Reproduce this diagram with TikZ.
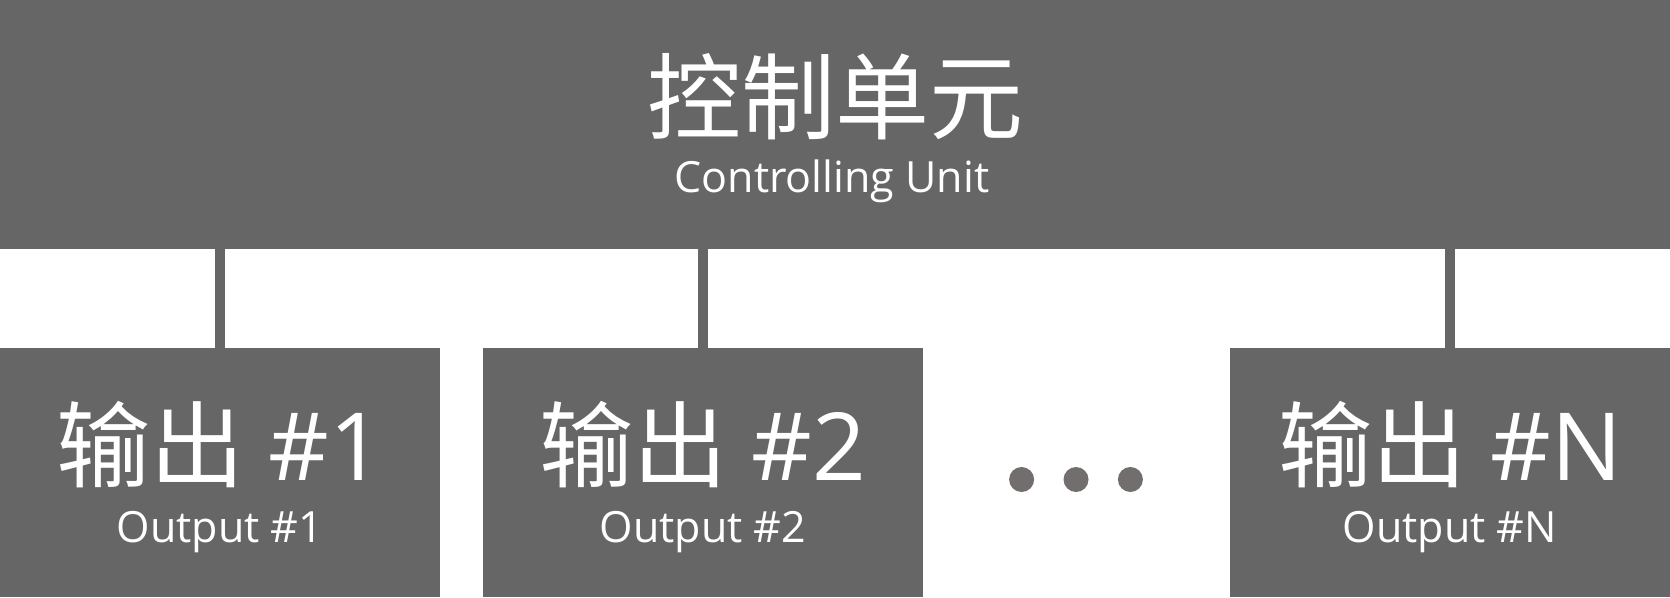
\documentclass[tikz,border=0pt]{standalone}
\usepackage{fontspec}
\setmainfont{Open Sans}
\newfontfamily\cjk{Noto Sans CJK SC}
\usetikzlibrary{positioning, calc}
\definecolor{boxgray}{RGB}{102,102,102}
\definecolor{dotgray}{RGB}{115,110,110}
\tikzset{
	block/.style={fill=boxgray, draw=none, inner sep=0pt, outer sep=0pt, minimum height=249pt},
	link/.style={draw=boxgray, line width=10pt},
	bigtext/.style={text=white, inner sep=0pt, anchor=base, font=\fontsize{94}{94}\selectfont},
	smalltext/.style={text=white, inner sep=0pt, anchor=base, font=\fontsize{43}{43}\selectfont},
	dot/.style={fill=dotgray, draw=none, circle, inner sep=0pt, minimum size=25pt}
}

\begin{document}
\begin{tikzpicture}[x=1pt, y=1pt]
	\useasboundingbox (0,0) rectangle (1670,-597);
	\node (ctrl) [block, minimum width=1670pt, anchor=north west] at (0,0) {};
	\node (out1) [block, minimum width=440pt] at (220,-472.5) {};
	\node (out2) [block, minimum width=440pt] at (703,-472.5) {};
	\node (outN) [block, minimum width=440pt] at (1450,-472.5) {};
	% connectors
	\draw[link] (ctrl.south -| out1.north) -- (out1.north);
	\draw[link] (ctrl.south -| out2.north) -- (out2.north);
	\draw[link] (ctrl.south -| outN.north) -- (outN.north);
	% labels
	\node (ctrlcn) [bigtext] at (835,-132) {\cjk 控制单元};
	\node (ctrlen) [smalltext] at (832,-192) {Controlling Unit};
	\node (out1cn) [bigtext] at (220,-480) {{\cjk 输出} \#1};
	\node (out1en) [smalltext] at (220,-542) {Output \#1};
	\node (out2cn) [bigtext] at (703,-480) {{\cjk 输出} \#2};
	\node (out2en) [smalltext] at (703,-542) {Output \#2};
	\node (outNcn) [bigtext] at (1450,-480) {{\cjk 输出} \#N};
	\node (outNen) [smalltext] at (1450,-542) {Output \#N};
	% dots
	\node (dot2) [dot] at (1076,-479.5) {};
	\node (dot1) [dot, left=29pt of dot2] {};
	\node (dot3) [dot, right=29pt of dot2] {};
\end{tikzpicture}
\end{document}
